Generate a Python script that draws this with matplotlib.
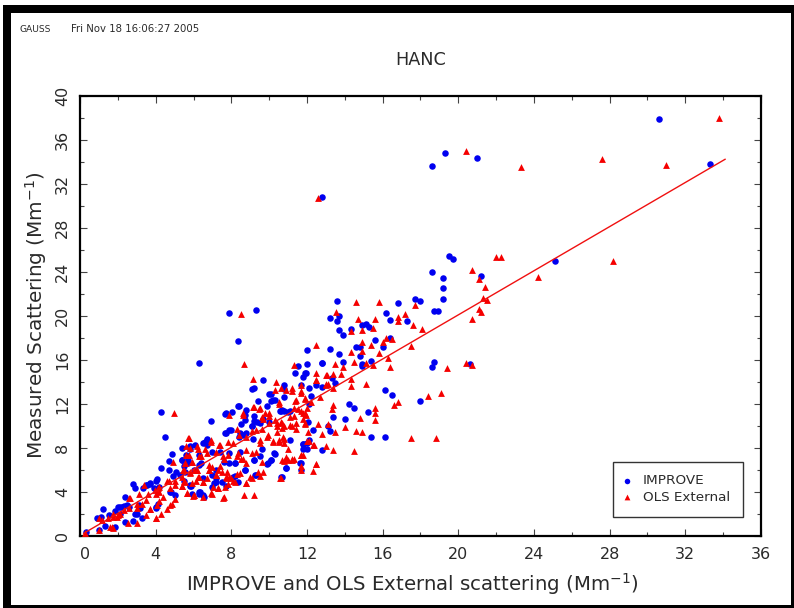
import matplotlib
matplotlib.use('Agg')
import matplotlib.pyplot as plt
from matplotlib.patches import Rectangle
from matplotlib.ticker import MultipleLocator

plt.rcParams['font.family'] = ['DejaVu Sans']
plt.rcParams['mathtext.default'] = 'regular'

# (x, y) in Mm-1
improve_pts = [
    (30.6, 37.9), (33.3, 33.8), (19.3, 34.8), (18.6, 33.6), (21.0, 34.3), (12.8, 30.8),
    (19.5, 25.4), (19.7, 25.1), (25.1, 25.0), (18.6, 24.0), (19.2, 23.4), (19.2, 22.5),
    (19.2, 21.5), (21.2, 23.6), (13.6, 21.3), (16.8, 21.1), (17.7, 21.5), (18.0, 21.3),
    (18.7, 20.4), (18.9, 20.4), (16.2, 20.2), (13.2, 19.8), (13.7, 20.0), (13.6, 19.5),
    (16.4, 19.6), (17.3, 19.5), (13.7, 18.7), (13.9, 18.2), (14.3, 18.8), (14.9, 19.1),
    (15.1, 19.2), (15.3, 19.0), (15.6, 17.8), (16.4, 18.0), (16.0, 17.1), (14.6, 17.1),
    (14.8, 17.1), (12.0, 16.9), (13.2, 17.0), (13.7, 16.5), (14.8, 16.3), (12.0, 15.6),
    (12.8, 15.7), (13.9, 15.8), (14.9, 15.6), (14.9, 15.4), (15.4, 15.9), (18.7, 15.8),
    (18.6, 15.3), (20.6, 15.6), (11.95, 14.8), (11.8, 14.4), (13.3, 14.3), (13.5, 13.9),
    (11.7, 13.7), (12.1, 13.4), (12.5, 13.7), (12.8, 13.5), (16.1, 13.2), (16.5, 12.8),
    (18.0, 12.2), (14.2, 12.0), (14.5, 11.6), (15.2, 11.2), (14.0, 10.6), (13.4, 10.8),
    (12.05, 10.3), (13.1, 10.0), (13.2, 9.5), (12.3, 9.6), (15.4, 9.0), (16.1, 9.0),
    (11.8, 8.35), (12.0, 7.9), (12.8, 7.8), (11.7, 6.6), (12.2, 12.7), (12.1, 12.0),
    (6.9, 10.4), (7.7, 11.1), (8.4, 11.8), (8.8, 11.4), (8.7, 11.0), (9.4, 12.2),
    (10.1, 12.9), (10.8, 12.6), (9.9, 11.8), (10.1, 12.2), (10.3, 12.3), (10.6, 11.3),
    (10.8, 11.3), (11.1, 11.3), (9.2, 10.9), (9.2, 10.4), (8.7, 10.5), (8.5, 10.1),
    (9.1, 10.0), (9.5, 10.2), (9.7, 10.6), (7.7, 9.3), (8.0, 9.6), (8.4, 9.0), (8.8, 9.3),
    (6.7, 8.7), (6.5, 8.4), (6.7, 8.2), (6.1, 8.2), (5.4, 8.0), (5.8, 7.9), (5.6, 7.3),
    (6.3, 7.3), (7.0, 7.6), (7.4, 7.6), (7.9, 7.5), (5.4, 6.9), (9.6, 7.9), (10.3, 7.4),
    (10.1, 6.9), (9.9, 6.5), (9.5, 7.2), (9.2, 6.9), (10.9, 6.1), (10.7, 5.3), (12.0, 8.4),
    (11.8, 7.9), (12.1, 8.7), (8.7, 6.0), (9.3, 5.5), (7.9, 6.6), (8.2, 6.6), (7.6, 6.7),
    (6.3, 6.4), (5.5, 6.3), (6.0, 6.0), (7.2, 6.0), (7.0, 5.5), (8.2, 5.4), (7.5, 4.9),
    (7.7, 4.5), (7.2, 4.9), (7.0, 4.4), (5.8, 4.5), (6.3, 4.0), (6.5, 3.7), (5.9, 3.8),
    (4.85, 7.4), (4.7, 6.8), (4.3, 6.1), (5.1, 5.8), (5.7, 6.9), (2.8, 4.65), (2.9, 4.3),
    (2.4, 3.5), (4.0, 5.0), (3.7, 4.7), (3.5, 4.6), (3.35, 4.3), (2.2, 2.6), (2.0, 2.6),
    (1.85, 2.2), (2.5, 2.8), (1.2, 2.4), (0.9, 1.6), (1.3, 0.9), (2.8, 1.3), (2.4, 1.2),
    (3.0, 2.0), (3.1, 2.8), (4.0, 2.6), (4.8, 4.0), (5.0, 3.7), (6.3, 3.8), (5.8, 4.6),
    (0.3, 0.35), (1.1, 1.7), (1.55, 1.9), (2.1, 2.0), (4.2, 4.4), (3.9, 4.3), (4.7, 6.0),
    (5.3, 5.5), (5.5, 5.0), (2.6, 2.6), (2.9, 2.0), (3.3, 1.6), (7.9, 20.2), (9.3, 20.5),
    (8.35, 17.7), (6.3, 15.7), (4.3, 11.2), (4.5, 9.0), (7.66, 11.05), (8.05, 11.2),
    (8.35, 11.75), (9.65, 14.1), (9.07, 13.35), (9.2, 13.4), (10.0, 12.9), (10.2, 12.3),
    (12.8, 15.7), (11.5, 15.4), (11.35, 14.8), (11.9, 14.8), (10.8, 13.7), (10.8, 13.3),
    (11.65, 6.55), (11.7, 6.0), (11.8, 8.3), (10.65, 5.3), (10.9, 6.1), (11.1, 8.7),
    (10.25, 7.5), (10.1, 6.9), (9.95, 6.6),
    # dense ribbon, second pass
    (2.1, 2.6), (2.3, 2.7), (3.7, 4.75), (4.05, 5.1), (3.55, 4.6), (4.1, 2.9), (4.0, 2.5),
    (3.15, 2.5), (1.85, 0.8), (1.0, 0.5), (4.75, 4.0), (5.55, 5.8), (6.4, 6.55), (6.5, 5.2),
    (7.1, 4.75), (7.2, 5.2), (8.2, 6.6), (8.45, 7.6), (9.07, 10.0), (9.35, 10.35), (8.6, 9.1),
    (7.9, 9.6), (8.45, 9.3), (7.66, 9.3), (6.6, 8.5), (6.7, 8.75), (5.8, 8.1), (5.4, 6.85),
    (5.7, 6.55), (4.9, 5.4), (6.55, 3.5), (6.35, 4.0), (5.85, 4.5), (9.15, 8.8), (10.0, 10.35),
    (10.7, 11.4), (10.55, 11.35), (11.0, 11.25), (9.2, 6.9), (8.7, 5.95), (8.35, 4.9),
    (8.1, 5.35), (9.25, 5.5),
]
ols_pts = [
    (33.8, 38.0), (20.4, 35.0), (23.3, 33.5), (27.6, 34.2), (31.0, 33.7), (12.6, 30.7),
    (22.0, 25.3), (22.25, 25.3), (28.2, 25.0), (20.7, 24.1), (21.1, 23.3), (24.2, 23.5),
    (21.4, 22.6), (21.3, 21.6), (21.5, 21.4), (21.1, 20.6), (21.2, 20.3), (20.7, 19.7),
    (14.6, 21.2), (15.8, 21.2), (17.7, 21.0), (13.55, 20.3), (14.7, 19.7), (15.6, 19.7),
    (16.8, 19.9), (17.2, 20.1), (16.8, 19.5), (17.6, 19.1), (18.1, 18.8), (14.3, 18.6),
    (14.9, 18.7), (15.5, 18.9), (16.2, 18.0), (16.5, 17.9), (16.0, 17.6), (14.9, 17.6),
    (15.4, 17.3), (17.5, 17.2), (12.5, 17.3), (14.3, 16.7), (14.9, 16.8), (15.8, 16.6),
    (16.3, 16.1), (13.5, 15.6), (14.5, 15.8), (15.1, 15.7), (15.5, 15.5), (16.4, 15.3),
    (20.4, 15.7), (20.7, 15.5), (19.4, 15.2), (13.9, 15.3), (12.5, 14.8), (13.0, 14.6),
    (13.4, 14.7), (13.8, 14.7), (14.3, 14.2), (12.5, 14.1), (13.1, 13.8), (13.0, 13.7),
    (15.1, 13.8), (14.3, 13.6), (13.4, 13.4), (11.7, 13.7), (12.7, 12.6), (12.2, 12.1),
    (11.9, 12.4), (11.7, 13.0), (13.4, 11.9), (13.3, 11.5), (15.6, 11.6), (15.6, 11.1),
    (15.6, 10.5), (14.8, 10.7), (14.0, 9.9), (12.6, 10.1), (11.9, 10.1), (11.7, 11.3),
    (11.9, 11.1), (11.8, 10.6), (12.05, 9.4), (12.8, 9.2), (13.5, 9.4), (14.6, 9.5),
    (14.9, 9.4), (12.1, 8.6), (12.3, 8.2), (13.0, 8.1), (13.4, 7.8), (14.5, 7.7),
    (17.5, 8.9), (18.8, 8.9), (16.6, 11.9), (16.8, 12.1), (18.4, 12.7), (19.1, 13.0),
    (12.5, 6.5), (11.8, 7.3), (5.7, 8.9), (6.9, 8.7), (7.4, 8.2), (7.9, 11.0), (8.6, 11.0),
    (9.2, 11.7), (9.5, 11.6), (9.6, 10.8), (10.0, 11.1), (10.5, 12.1), (11.4, 12.3),
    (11.2, 13.1), (11.7, 13.1), (11.3, 11.6), (11.5, 11.5), (11.3, 10.9), (11.8, 11.1),
    (12.0, 11.6), (11.9, 10.2), (10.0, 10.9), (9.7, 10.6), (10.3, 10.5), (10.6, 10.3),
    (10.8, 10.0), (11.2, 10.0), (11.4, 9.7), (10.4, 10.0), (10.7, 9.8), (10.4, 9.4),
    (8.3, 9.7), (9.1, 9.5), (8.8, 9.0), (9.3, 9.6), (9.6, 9.7), (7.8, 8.5), (8.1, 8.4),
    (8.4, 9.1), (9.5, 8.7), (9.5, 8.4), (9.9, 9.0), (10.2, 8.5), (10.8, 8.8), (10.8, 8.4),
    (11.0, 7.9), (10.5, 8.5), (8.8, 7.8), (9.1, 7.5), (9.3, 7.6), (8.5, 7.0), (7.6, 7.0),
    (8.3, 7.2), (10.9, 7.0), (10.8, 6.8), (11.2, 6.9), (11.7, 7.3), (11.7, 6.3), (11.7, 6.0),
    (5.6, 8.1), (5.8, 8.0), (6.2, 8.1), (6.6, 7.9), (6.7, 7.5), (6.3, 7.2), (5.9, 6.7),
    (5.6, 7.3), (6.8, 6.4), (6.8, 6.0), (7.0, 6.2), (7.4, 6.3), (7.5, 5.8), (8.3, 5.6),
    (7.2, 5.5), (5.5, 6.0), (5.8, 5.8), (6.2, 6.0), (6.3, 5.3), (6.7, 5.2), (5.4, 5.3),
    (7.7, 5.3), (8.0, 5.2), (8.1, 5.0), (7.8, 4.7), (9.0, 5.3), (8.8, 4.8), (9.5, 5.4),
    (9.7, 5.8), (10.6, 5.2), (6.5, 4.9), (7.3, 4.3), (7.0, 3.8), (5.4, 4.5), (6.0, 3.7),
    (6.5, 3.5), (7.6, 3.5), (9.2, 3.7), (0.25, 0.2), (1.0, 0.5), (1.6, 0.75), (1.75, 0.7),
    (1.0, 1.55), (1.15, 1.4), (1.5, 1.55), (1.75, 2.0), (2.0, 1.85), (2.55, 1.1), (3.0, 1.15),
    (2.3, 2.3), (2.6, 3.4), (2.6, 2.5), (3.0, 2.9), (3.1, 3.8), (3.0, 2.5), (3.3, 2.9),
    (3.4, 4.6), (3.6, 3.8), (3.5, 3.2), (3.7, 2.4), (3.5, 1.9), (4.0, 1.55), (4.3, 2.0),
    (4.05, 2.8), (4.2, 3.1), (4.4, 3.5), (4.1, 4.3), (4.2, 4.0), (4.0, 3.8), (4.6, 2.4),
    (4.85, 2.9), (5.0, 3.3), (4.7, 5.0), (5.0, 4.6), (5.4, 4.5), (5.5, 5.0), (5.8, 5.65),
    (5.45, 5.95), (4.9, 6.7), (5.55, 6.6), (5.9, 6.7), (6.2, 6.0), (6.25, 5.35), (5.9, 4.75),
    (5.65, 3.85), (6.0, 3.7), (4.75, 4.3), (1.95, 1.7), (8.5, 20.1), (8.65, 15.6),
    (4.95, 11.1), (5.75, 8.9), (9.17, 14.2), (10.35, 14.0), (11.3, 15.5), (12.5, 14.1),
    (13.06, 14.6), (13.0, 13.8), (10.3, 13.2), (10.6, 13.4), (10.9, 13.2), (11.2, 13.4),
    (8.65, 3.7), (7.57, 3.4), (10.56, 5.2), (12.3, 5.9), (12.5, 6.5), (11.7, 7.3),
    (11.2, 7.0), (10.9, 7.1), (10.7, 6.9), (12.0, 8.6), (12.35, 8.2), (13.1, 10.1),
    # dense ribbon, second pass
    (2.65, 3.4), (1.75, 1.7), (2.1, 2.0), (1.67, 0.8), (4.0, 1.55), (3.7, 2.4), (4.75, 2.8),
    (3.95, 4.15), (4.15, 4.45), (4.6, 5.0), (5.0, 5.0), (5.55, 4.9), (5.65, 3.9), (5.95, 3.6),
    (6.95, 3.9), (7.3, 4.3), (7.05, 4.45), (7.65, 4.45), (8.2, 4.9), (8.8, 4.8), (9.07, 5.2),
    (9.4, 5.8), (8.45, 5.65), (7.9, 5.35), (7.75, 5.8), (8.6, 7.0), (8.8, 6.55), (9.6, 6.7),
    (11.0, 6.85), (11.3, 6.95), (10.5, 8.7), (10.2, 8.6), (9.95, 9.15), (10.75, 9.0),
    (8.35, 7.5), (7.85, 7.3), (7.55, 7.2), (7.2, 7.6), (6.95, 8.5), (7.35, 8.2), (6.4, 7.2),
    (6.25, 7.9), (5.75, 7.3), (5.55, 6.55), (6.05, 5.95), (6.15, 5.0), (6.5, 4.9), (6.8, 5.95),
    (7.3, 5.95), (7.2, 5.5), (7.75, 5.2), (10.0, 10.2), (10.4, 10.2), (10.7, 10.2), (11.1, 10.05),
    (11.4, 10.2), (11.95, 11.0), (11.1, 10.8), (9.8, 11.1), (9.45, 11.5), (8.6, 11.1),
    (9.15, 11.65), (10.5, 12.0), (11.35, 12.2), (11.9, 12.5),
]
fit_x = [0.2, 34.1]
fit_y = [0.2, 34.2]

x_ticks = [0, 4, 8, 12, 16, 20, 24, 28, 32, 36]
y_ticks = [0, 4, 8, 12, 16, 20, 24, 28, 32, 36, 40]

improve_x, improve_y = zip(*improve_pts)
ols_x, ols_y = zip(*ols_pts)

W, H = 794, 608
TXT = '#2a2a2a'
fig = plt.figure(figsize=(W / 100, H / 100), dpi=100, facecolor='white')
# thick page border, uneven like the plot device left it
fig.add_artist(Rectangle((3 / W, 0), 791 / W, 603 / H, transform=fig.transFigure,
                         facecolor='black', edgecolor='none', zorder=-2))
fig.add_artist(Rectangle((11 / W, 3 / H), 780 / W, 592 / H, transform=fig.transFigure,
                         facecolor='white', edgecolor='none', zorder=-1))

ax = fig.add_axes([80 / W, 1 - 535.5 / H, 681 / W, 440 / H])
ax.set_xlim(0, 36)
ax.set_ylim(0, 40)

ax.scatter(improve_x, improve_y, s=22, c='#0000f0', marker='o', linewidths=0, clip_on=False,
           zorder=3, label='IMPROVE')
ax.scatter(ols_x, ols_y, s=24, c='#f50000', marker='^', linewidths=0, clip_on=False,
           zorder=4, label='OLS External')
ax.plot(fit_x, fit_y, color='#f01010', linewidth=1.0, zorder=5)

ax.set_xticks(x_ticks)
ax.set_yticks(y_ticks)
ax.xaxis.set_minor_locator(MultipleLocator(2))
ax.yaxis.set_minor_locator(MultipleLocator(2))
ax.tick_params(which='major', direction='in', length=5, width=0.8, color='#444444',
               top=True, right=True, labelsize=11.5, labelcolor=TXT)
ax.tick_params(which='minor', direction='in', length=3, width=0.8, color='#444444',
               top=True, right=True)
ax.tick_params(axis='x', which='major', pad=8)
ax.tick_params(axis='y', which='major', pad=7)
for lab in ax.get_yticklabels():
    lab.set_rotation(90)
    lab.set_va('center')
ax.get_xticklabels()[0].set_ha('left')
for side in ax.spines.values():
    side.set_linewidth(1.6)

ax.set_xlabel('IMPROVE and OLS External scattering (Mm$^{-1}$)', fontsize=14.2, color=TXT)
ax.set_ylabel('Measured Scattering (Mm$^{-1}$)', fontsize=14.4, color=TXT)
ax.xaxis.set_label_coords(332 / 681, -36 / 440)
ax.yaxis.set_label_coords(-31 / 681, 0.5)

leg = ax.legend(loc='lower left', bbox_to_anchor=(533 / 681, 19 / 440), borderaxespad=0,
                fontsize=9.7, frameon=True, fancybox=False, edgecolor='#333333',
                framealpha=1, markerscale=0.85, handletextpad=1.05, labelspacing=0.25,
                borderpad=0.95, handlelength=0.2)
leg.get_frame().set_linewidth(1)
leg.set_zorder(6)
for t in leg.get_texts():
    t.set_color(TXT)

fig.text(19 / W, 1 - 29 / H, 'GAUSS', fontsize=6.6, va='center', color=TXT)
fig.text(71 / W, 1 - 29 / H, 'Fri Nov 18 16:06:27 2005', fontsize=7.3, va='center', color=TXT)
fig.text(420.5 / W, 1 - 60 / H, 'HANC', fontsize=12.7, ha='center', va='center', color=TXT)

fig.savefig('out.png', dpi=100)
plt.close(fig)
